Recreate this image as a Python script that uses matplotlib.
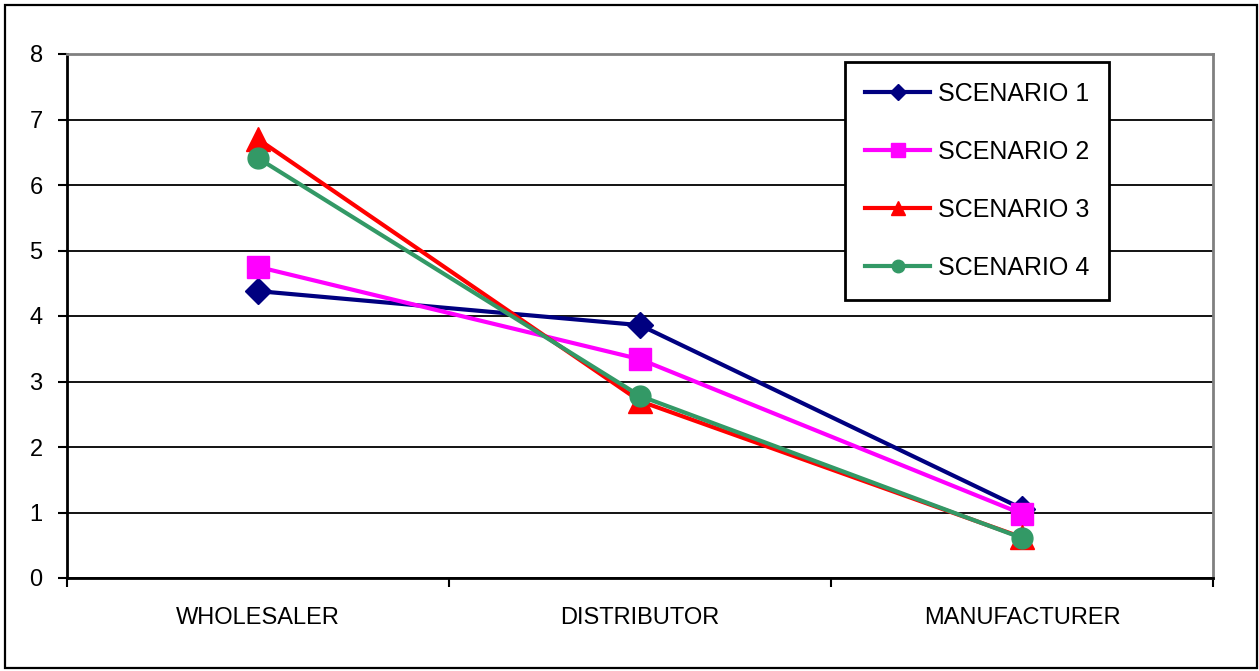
import matplotlib
matplotlib.use("Agg")
import matplotlib.pyplot as plt
from matplotlib.patches import Rectangle

categories = ["WHOLESALER", "DISTRIBUTOR", "MANUFACTURER"]
scenario1 = [4.38, 3.86, 1.06]
scenario2 = [4.75, 3.34, 0.98]
scenario3 = [6.70, 2.70, 0.62]
scenario4 = [6.41, 2.78, 0.61]
series_names = ["SCENARIO 1", "SCENARIO 2", "SCENARIO 3", "SCENARIO 4"]
yticks = [0, 1, 2, 3, 4, 5, 6, 7, 8]

plt.rcParams['font.family'] = ['Liberation Sans', 'DejaVu Sans']

W, H = 1259, 671
fig = plt.figure(figsize=(W / 100, H / 100), dpi=100)
ax = fig.add_axes([67 / W, 1 - 578 / H, (1213 - 67) / W, (578 - 54) / H])

x = [0, 1, 2]
styles = [
    (scenario1, "#000080", "D", 13),
    (scenario2, "#FF00FF", "s", 16),
    (scenario3, "#FF0000", "^", 17),
    (scenario4, "#339966", "o", 15),
]
for (vals, col, mk, ms), name in zip(styles, series_names):
    ax.plot(x, vals, color=col, lw=3, marker=mk, markersize=ms,
            markeredgecolor=col, label=name, zorder=3)

ax.set_xlim(-0.5, 2.5)
ax.set_ylim(0, 8)
ax.set_yticks(yticks)
ax.set_yticklabels([str(v) for v in yticks], fontsize=17)
ax.set_xticks(x)
ax.set_xticklabels(categories, fontsize=17)
ax.set_xticks([-0.5, 0.5, 1.5, 2.5], minor=True)
ax.tick_params(axis='x', which='major', length=0, pad=21)
ax.tick_params(axis='x', which='minor', length=6.5, width=1.5, direction='out', color='black')
ax.tick_params(axis='y', length=6.5, width=1.5, direction='out', pad=11)
ax.yaxis.grid(True, color='black', lw=1.3)
ax.set_axisbelow(True)
for s in ['top', 'right']:
    ax.spines[s].set_color('#808080')
    ax.spines[s].set_linewidth(2)
for s in ['left', 'bottom']:
    ax.spines[s].set_color('black')
    ax.spines[s].set_linewidth(2)

leg = ax.legend(loc='upper left', bbox_to_anchor=(845 / W, 1 - 62 / H),
                bbox_transform=fig.transFigure, fontsize=18, frameon=True,
                fancybox=False, edgecolor='black', framealpha=1,
                handlelength=2.6, handletextpad=0.3, labelspacing=1.36,
                borderpad=0.8, borderaxespad=0, markerscale=0.6)
leg.get_frame().set_linewidth(2)

fig.patches.append(Rectangle((5 / W, 1 - 668 / H), (1257 - 5) / W, (668 - 5) / H,
                             transform=fig.transFigure, fill=False,
                             edgecolor='black', lw=1.6))

fig.savefig("out.png", dpi=100)
